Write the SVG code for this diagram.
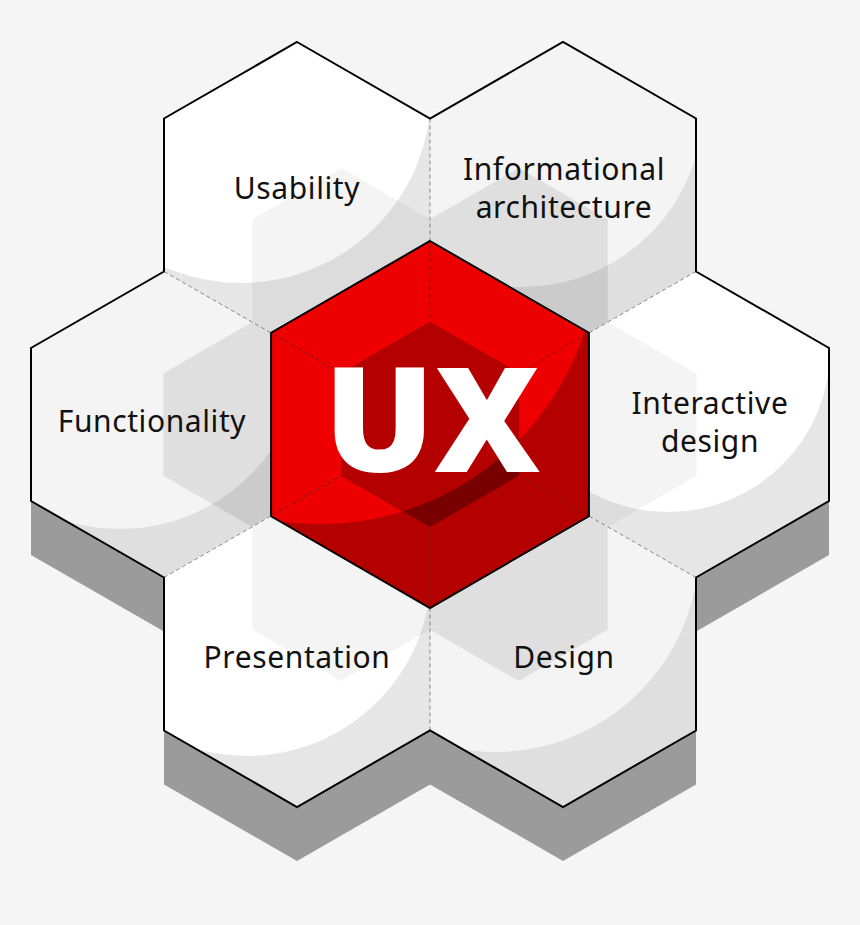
<svg xmlns="http://www.w3.org/2000/svg" width="860" height="925" viewBox="0 0 860 925">
<style>
.lbl{font-family:"Noto Sans","Open Sans","DejaVu Sans",sans-serif;font-size:30px;fill:#111;text-anchor:middle;letter-spacing:0.6px}
.ux{font-family:"Open Sans","Noto Sans","DejaVu Sans",sans-serif;font-weight:800;font-size:146px;fill:#fff;text-anchor:middle}
.shadow{fill:#9b9b9b}
.outW{fill:#e6e6e6}.inW{fill:#ffffff}
.outG{fill:#dfdfdf}.inG{fill:#f4f4f4}
.ghostW{fill:#000;fill-opacity:0.045}
.ghostG{fill:#000;fill-opacity:0.088}
.spoke{fill:none;stroke:#333;stroke-opacity:0.55;stroke-width:1;stroke-dasharray:4 3}
.edge{fill:none;stroke:#000;stroke-width:2;stroke-linejoin:miter}
</style>
<defs>
<clipPath id="cU"><polygon points="297,42 430,118.5 430,271.5 297,348 164,271.5 164,118.5"/></clipPath>
<clipPath id="cI"><polygon points="563,42 696,118.5 696,271.5 563,348 430,271.5 430,118.5"/></clipPath>
<clipPath id="cF"><polygon points="164,271.5 297,348 297,501 164,577.5 31,501 31,348"/></clipPath>
<clipPath id="cN"><polygon points="696,271.5 829,348 829,501 696,577.5 563,501 563,348"/></clipPath>
<clipPath id="cP"><polygon points="297,501 430,577.5 430,730.5 297,807 164,730.5 164,577.5"/></clipPath>
<clipPath id="cD"><polygon points="563,501 696,577.5 696,730.5 563,807 430,730.5 430,577.5"/></clipPath>
<clipPath id="cR"><polygon points="430,241 588.9,332.75 588.9,516.25 430,608 271.1,516.25 271.1,332.75"/></clipPath>
<clipPath id="cInner"><polygon points="430,321.9 518.85,373.2 518.85,475.8 430,527.1 341.15,475.8 341.15,373.2"/></clipPath>
</defs>
<rect width="860" height="925" fill="#f5f5f5"/>
<g id="shadow">
<polygon class="shadow" points="31,501 164,577.5 164,631.5 31,555"/>
<polygon class="shadow" points="829,501 696,577.5 696,631.5 829,555"/>
<polygon class="shadow" points="164,730.5 297,807 430,730.5 563,807 696,730.5 696,784.5 563,861 430,784.5 297,861 164,784.5"/>
</g>
<g id="usability">
<polygon class="outW" points="297,42 430,118.5 430,271.5 297,348 164,271.5 164,118.5"/>
<circle class="inW" cx="241" cy="93" r="190" clip-path="url(#cU)"/>
<polygon class="ghostW" points="341.15,168 430,219.3 430,321.9 341.15,373.2 252.3,321.9 252.3,219.3" clip-path="url(#cU)"/>
<text class="lbl" x="297" y="199">Usability</text>
</g>
<g id="informational-architecture">
<polygon class="outG" points="563,42 696,118.5 696,271.5 563,348 430,271.5 430,118.5"/>
<circle class="inG" cx="522" cy="106" r="181" clip-path="url(#cI)"/>
<polygon class="ghostG" points="518.85,168 607.7,219.3 607.7,321.9 518.85,373.2 430,321.9 430,219.3" clip-path="url(#cI)"/>
<text class="lbl" x="564" y="180">Informational</text>
<text class="lbl" x="564" y="217.5">architecture</text>
</g>
<g id="functionality">
<polygon class="outG" points="164,271.5 297,348 297,501 164,577.5 31,501 31,348"/>
<circle class="inG" cx="120" cy="345" r="184" clip-path="url(#cF)"/>
<polygon class="ghostG" points="252.3,321.9 341.15,373.2 341.15,475.8 252.3,527.1 163.45,475.8 163.45,373.2" clip-path="url(#cF)"/>
<text class="lbl" x="152" y="432">Functionality</text>
</g>
<g id="interactive-design">
<polygon class="outW" points="696,271.5 829,348 829,501 696,577.5 563,501 563,348"/>
<circle class="inW" cx="668" cy="350" r="162" clip-path="url(#cN)"/>
<polygon class="ghostW" points="607.7,321.9 696.55,373.2 696.55,475.8 607.7,527.1 518.85,475.8 518.85,373.2" clip-path="url(#cN)"/>
<text class="lbl" x="710" y="414">Interactive</text>
<text class="lbl" x="710" y="452">design</text>
</g>
<g id="presentation">
<polygon class="outW" points="297,501 430,577.5 430,730.5 297,807 164,730.5 164,577.5"/>
<circle class="inW" cx="247" cy="572" r="184" clip-path="url(#cP)"/>
<polygon class="ghostW" points="341.15,475.8 430,527.1 430,629.7 341.15,681 252.3,629.7 252.3,527.1" clip-path="url(#cP)"/>
<text class="lbl" x="297" y="668">Presentation</text>
</g>
<g id="design">
<polygon class="outG" points="563,501 696,577.5 696,730.5 563,807 430,730.5 430,577.5"/>
<circle class="inG" cx="495" cy="548" r="204" clip-path="url(#cD)"/>
<polygon class="ghostG" points="518.85,475.8 607.7,527.1 607.7,629.7 518.85,681 430,629.7 430,527.1" clip-path="url(#cD)"/>
<text class="lbl" x="564" y="668">Design</text>
</g>
<g id="outline">
<path class="edge" d="M297,42 L430,118.5 L563,42 L696,118.5 L696,271.5 L829,348 L829,501 L696,577.5 L696,730.5 L563,807 L430,730.5 L297,807 L164,730.5 L164,577.5 L31,501 L31,348 L164,271.5 L164,118.5 Z"/>
</g>
<g id="ux">
<polygon points="430,241 588.9,332.75 588.9,516.25 430,608 271.1,516.25 271.1,332.75" fill="#b50000"/>
<circle cx="320" cy="246" r="278" fill="#ee0000" clip-path="url(#cR)"/>
<polygon points="430,321.9 518.85,373.2 518.85,475.8 430,527.1 341.15,475.8 341.15,373.2" fill="#780000"/>
<circle cx="320" cy="246" r="278" fill="#b50000" clip-path="url(#cInner)"/>
<polygon class="edge" points="430,241 588.9,332.75 588.9,516.25 430,608 271.1,516.25 271.1,332.75" stroke-width="2.4"/>
</g>
<g id="connectors">
<path class="spoke" d="M430,118.5 V321.9 M164,271.5 L341.15,373.2 M696,271.5 L518.85,373.2 M164,577.5 L341.15,475.8 M696,577.5 L518.85,475.8 M430,730.5 V527.1"/>
</g>
<g id="ux-label">
<text class="ux" x="432" y="472">UX</text>
</g>
</svg>
